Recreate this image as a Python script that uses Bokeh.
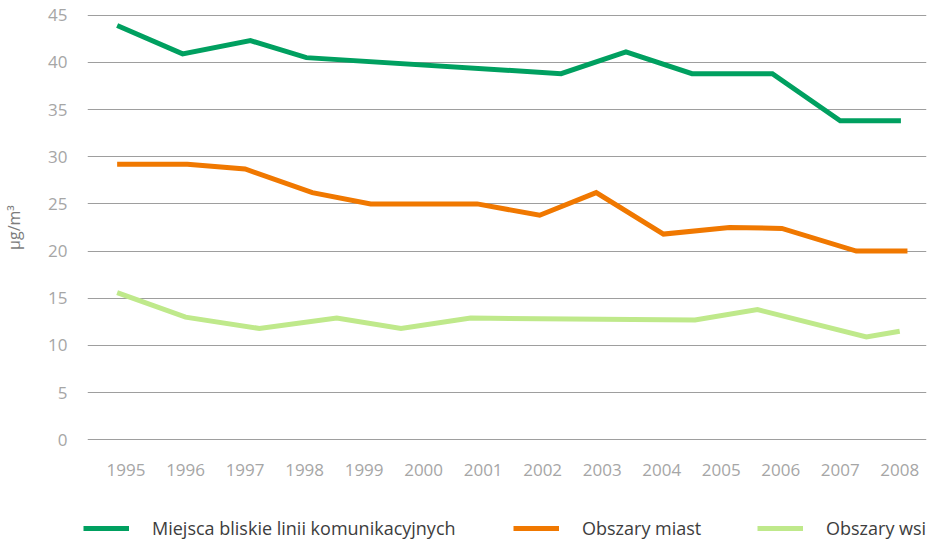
from bokeh.plotting import figure
from bokeh.layouts import column
from bokeh.models import Range1d, FixedTicker, Legend, LegendItem
from bokeh.embed import file_html
from bokeh.resources import INLINE

# ---- data ----
years = [1995, 1996, 1997, 1998, 1999, 2000, 2001, 2002, 2003, 2004, 2005, 2006, 2007, 2008]
y_ticks = [0, 5, 10, 15, 20, 25, 30, 35, 40, 45]

series_names = ["Miejsca bliskie linii komunikacyjnych", "Obszary miast", "Obszary wsi"]

# vertices of each line (x as fractional year, as drawn in the reference)
road_x = [1994.85, 1995.95, 1997.09, 1998.03, 2002.31, 2003.40, 2004.51, 2005.86, 2007.00, 2008.02]
road_y = [43.9, 40.9, 42.3, 40.5, 38.8, 41.1, 38.8, 38.8, 33.8, 33.8]

city_x = [1994.85, 1996.03, 1997.00, 1998.13, 1999.11, 2000.90, 2001.95, 2002.90, 2004.03, 2005.14, 2006.02, 2007.27, 2008.13]
city_y = [29.2, 29.2, 28.7, 26.2, 25.0, 25.0, 23.8, 26.2, 21.8, 22.5, 22.4, 20.0, 20.0]

rural_x = [1994.85, 1996.00, 1997.24, 1998.54, 1999.62, 2000.79, 2004.56, 2005.61, 2007.44, 2008.00]
rural_y = [15.6, 13.0, 11.8, 12.9, 11.8, 12.9, 12.7, 13.8, 10.9, 11.5]

colors = ["#00a060", "#f07800", "#bfe98b"]

# ---- main chart ----
p = figure(width=928, height=500, output_backend="svg", toolbar_location=None,
           x_range=Range1d(1994.352, 2008.45), y_range=Range1d(-0.6, 45.6),
           min_border_left=78, min_border_right=2, min_border_top=9, min_border_bottom=55)
p.frame_align = False
p.outline_line_color = None

p.xgrid.visible = False
p.ygrid.ticker = FixedTicker(ticks=y_ticks)
p.ygrid.grid_line_color = "#9e9e9e"
p.ygrid.grid_line_width = 1.2

p.xaxis.ticker = FixedTicker(ticks=years)
p.yaxis.ticker = FixedTicker(ticks=y_ticks)
for ax in (p.xaxis, p.yaxis):
    ax.axis_line_color = None
    ax.major_tick_line_color = None
    ax.minor_tick_line_color = None
    ax.major_label_text_font = "Open Sans"
    ax.major_label_text_font_size = "17px"
    ax.major_label_text_color = "#a6a6a6"
p.xaxis.major_label_standoff = 12
p.yaxis.major_label_standoff = 14

p.yaxis.axis_label = "µg/m³"
p.yaxis.axis_label_text_font = "Open Sans"
p.yaxis.axis_label_text_font_size = "16px"
p.yaxis.axis_label_text_font_style = "normal"
p.yaxis.axis_label_text_color = "#7c7c7c"
p.yaxis.axis_label_standoff = 20

for xs, ys, c in zip([road_x, city_x, rural_x], [road_y, city_y, rural_y], colors):
    p.line(xs, ys, line_color=c, line_width=5, line_join="miter")

# ---- legend strip ----
lg = figure(width=928, height=40, output_backend="svg", toolbar_location=None,
            x_axis_type=None, y_axis_type=None,
            x_range=Range1d(0, 1), y_range=Range1d(0, 1),
            min_border_left=0, min_border_right=0, min_border_top=0, min_border_bottom=0)
lg.frame_align = False
lg.outline_line_color = None
lg.grid.visible = False

legend_x = [83, 513, 757]
for name, c, lx in zip(series_names, colors, legend_x):
    # sample line kept outside the strip's visible range; only its legend swatch shows
    r = lg.line([-10, -9], [-10, -9], line_color=c, line_width=5)
    leg = Legend(items=[LegendItem(label=name, renderers=[r])], location=(lx, 0),
                 orientation="horizontal", padding=0, margin=0, spacing=0,
                 border_line_color=None, background_fill_alpha=0,
                 glyph_width=46, glyph_height=20, label_height=20,
                 label_standoff=23, label_text_font="Open Sans",
                 label_text_font_size="18px", label_text_color="#3d3d3d")
    lg.add_layout(leg)

layout = column(p, lg, spacing=0)
open("out.html", "w").write(file_html(layout, INLINE))
